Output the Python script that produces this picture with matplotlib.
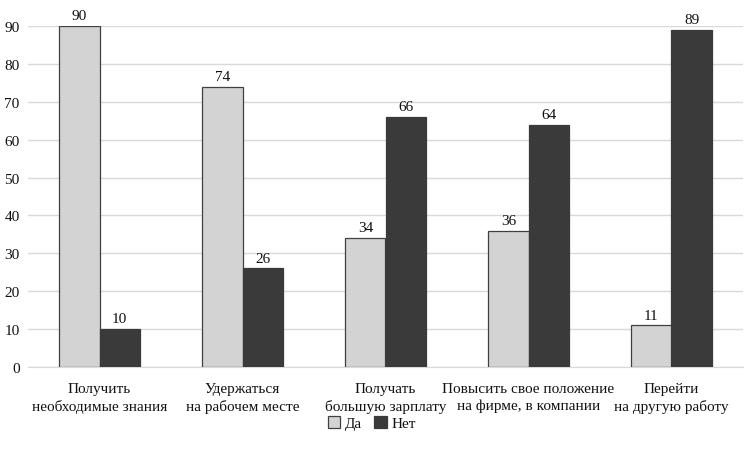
import matplotlib
matplotlib.use("Agg")
import matplotlib.pyplot as plt
import numpy as np

categories = ["Получить\nнеобходимые знания", "Удержаться\nна рабочем месте",
              "Получать\nбольшую зарплату", "Повысить свое положение\nна фирме, в компании",
              "Перейти\nна другую работу"]
da = [90, 74, 34, 36, 11]
net = [10, 26, 66, 64, 89]
series_names = ["Да", "Нет"]
yticks = [0, 10, 20, 30, 40, 50, 60, 70, 80, 90]

plt.rcParams['font.family'] = ['Liberation Serif', 'DejaVu Serif']
FS = 11
TC = "#111111"

fig = plt.figure(figsize=(7.44, 4.56), dpi=100)
ax = fig.add_axes([28/744, 1-368/456, 715/744, (368-27)/456])

x = np.arange(len(categories))
w = 0.28
b1 = ax.bar(x - w/2, da, w, color="#d3d3d3", edgecolor="#404040", linewidth=0.9, label=series_names[0], zorder=3)
b2 = ax.bar(x + w/2, net, w, color="#3a3a3a", edgecolor="#3a3a3a", linewidth=0.9, label=series_names[1], zorder=3)
for bars, vals in ((b1, da), (b2, net)):
    for r, v in zip(bars, vals):
        ax.text(r.get_x() + r.get_width()/2, v + 1.0, str(v), ha="center", va="bottom",
                fontsize=FS, color=TC)

ax.set_xlim(-0.5, len(categories) - 0.5)
ax.set_ylim(0, 90)
ax.set_yticks(yticks)
ax.set_xticks(x)
ax.set_xticklabels(categories, fontsize=FS, linespacing=1.35, color=TC)
ax.tick_params(axis="both", length=0, labelsize=FS, colors=TC)
ax.tick_params(axis="x", pad=11)
ax.tick_params(axis="y", pad=6)
ax.yaxis.grid(True, color="#d9d9d9", linewidth=1, zorder=0)
for s in ["top", "right", "left"]:
    ax.spines[s].set_visible(False)
ax.spines["bottom"].set_color("#d9d9d9")
ax.set_axisbelow(True)

leg = fig.legend(handles=[b1, b2], loc="center", bbox_to_anchor=(372/744, 1-424/456), ncol=2,
                 frameon=False, fontsize=FS, handlelength=0.8, handleheight=0.8,
                 handletextpad=0.3, columnspacing=0.8)
for t in leg.get_texts():
    t.set_color(TC)

fig.savefig("out.png", dpi=100)
